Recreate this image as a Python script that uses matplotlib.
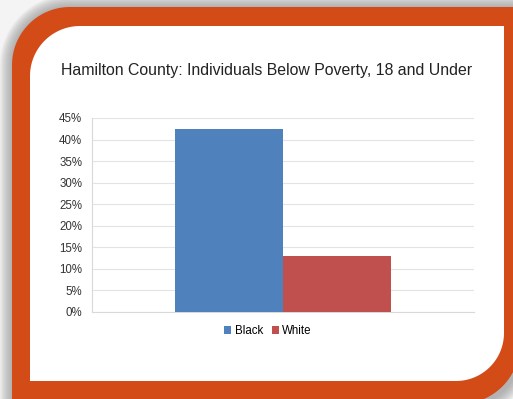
import numpy as np
import matplotlib
matplotlib.use('Agg')
import matplotlib.pyplot as plt
from matplotlib.patches import Polygon
from matplotlib.ticker import MultipleLocator, FuncFormatter

# data
categories = ['Black', 'White']
values = [42.4, 13.0]
colors = ['#4F81BD', '#C0504D']
title = 'Hamilton County: Individuals Below Poverty, 18 and Under'

W, H = 513, 399
plt.rcParams['font.family'] = ['Liberation Sans', 'DejaVu Sans']


def frame_path(x0, y0, x1, y1, r_tl, r_br, n=30):
    """Rectangle in pixel coords (y down) with rounded top-left and bottom-right."""
    pts = []
    # top-left arc
    t = np.linspace(np.pi, 1.5 * np.pi, n)
    pts += list(zip(x0 + r_tl + r_tl * np.cos(t), y0 + r_tl + r_tl * np.sin(t)))
    pts.append((x1, y0))
    # bottom-right arc
    t = np.linspace(0, 0.5 * np.pi, n)
    pts += list(zip(x1 - r_br + r_br * np.cos(t), y1 - r_br + r_br * np.sin(t)))
    pts.append((x0, y1))
    return [(x / W, 1 - y / H) for x, y in pts]


fig = plt.figure(figsize=(W / 100, H / 100), dpi=100)
fig.patch.set_facecolor('#f4f4f4')

# soft shadow around the frame
for i in range(12):
    g = 12 - i
    fig.add_artist(Polygon(frame_path(12 - g, 7 - g, 520 + g, 406 + g, 58 + g, 55 + g),
                           closed=True, transform=fig.transFigure,
                           facecolor='#8c8c8c', edgecolor='none', alpha=0.07,
                           zorder=-2))

# orange frame and white card
fig.add_artist(Polygon(frame_path(12, 7, 520, 404, 58, 60), closed=True,
                       transform=fig.transFigure, facecolor='#D34B17',
                       edgecolor='none', zorder=-1))
fig.add_artist(Polygon(frame_path(30, 26, 504, 381, 50, 48), closed=True,
                       transform=fig.transFigure, facecolor='white',
                       edgecolor='none', zorder=-1))

ax = fig.add_axes([92 / W, 1 - 312 / H, 382 / W, 194 / H])
ax.set_zorder(5)
ax.set_facecolor('none')
w = 0.284
for i, (cat, val, col) in enumerate(zip(categories, values, colors)):
    ax.bar((i - 0.5) * w, val, width=w, color=col, label=cat, zorder=3)

ax.set_xlim(-0.5, 0.5)
ax.set_ylim(0, 45)
ax.yaxis.set_major_locator(MultipleLocator(5))
ax.yaxis.set_major_formatter(FuncFormatter(lambda v, p: '%d%%' % v))
ax.set_xticks([])
ax.tick_params(axis='y', length=0, labelsize=8.3, labelcolor='#333333', pad=7)
ax.grid(axis='y', color='#E3E3E3', linewidth=0.8, zorder=0)
for s in ['top', 'right']:
    ax.spines[s].set_visible(False)
ax.spines['left'].set_color('#D9D9D9')
ax.spines['bottom'].set_color('#D9D9D9')

fig.text(267 / W, 1 - 71 / H, title, ha='center', va='center',
         fontsize=11.4, color='#222222', zorder=6)

ax.legend(loc='center', bbox_to_anchor=(268 / W, 1 - 331 / H),
          bbox_transform=fig.transFigure, ncol=2, frameon=False,
          fontsize=8.3, handlelength=0.6, handleheight=0.6,
          handletextpad=0.3, columnspacing=0.8)

fig.savefig('out.png', dpi=100)
